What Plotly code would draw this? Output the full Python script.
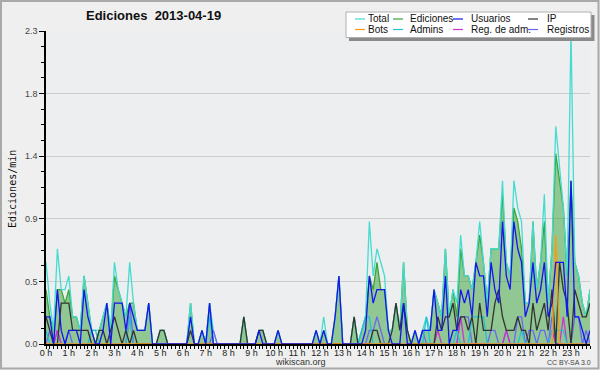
import plotly.graph_objects as go

# ---- categories: 10-minute slots over the day (hours) ----
slot_minutes = list(range(0, 1440, 10))
hours_x = [m / 60 for m in slot_minutes]
hour_ticks = list(range(24))
hour_labels = [f"{h} h" for h in hour_ticks]

y_tickvals = [0, 0.46, 0.92, 1.38, 1.84, 2.3]
y_ticktext = ["0.0", "0.5", "0.9", "1.4", "1.8", "2.3"]

# ---- series (edits per minute, one value per 10-minute slot; 6 per hour) ----
total = [
    0.6, 0.3, 0.1, 0.7, 0.4, 0.4,
    0.5, 0.2, 0.2, 0.1, 0.5, 0.3,
    0.1, 0.1, 0.1, 0.2, 0.3, 0.1,
    0.6, 0.4, 0.3, 0.2, 0.6, 0.3,
    0.1, 0.1, 0.1, 0.3, 0.0, 0.0,
    0.1, 0.1, 0.0, 0.0, 0.0, 0.0,
    0.0, 0.0, 0.3, 0.0, 0.0, 0.1,
    0.0, 0.3, 0.1, 0.0, 0.0, 0.0,
    0.0, 0.0, 0.0, 0.0, 0.2, 0.0,
    0.0, 0.0, 0.1, 0.1, 0.0, 0.0,
    0.0, 0.1, 0.0, 0.0, 0.0, 0.0,
    0.0, 0.0, 0.0, 0.0, 0.0, 0.1,
    0.0, 0.2, 0.0, 0.0, 0.2, 0.5,
    0.0, 0.0, 0.0, 0.2, 0.0, 0.1,
    0.2, 0.9, 0.5, 0.7, 0.6, 0.5,
    0.1, 0.1, 0.3, 0.1, 0.6, 0.1,
    0.0, 0.1, 0.0, 0.1, 0.2, 0.1,
    0.4, 0.3, 0.2, 0.7, 0.2, 0.4,
    0.3, 0.8, 0.5, 0.5, 0.4, 0.6,
    0.9, 0.6, 0.3, 0.7, 0.7, 0.7,
    1.2, 0.6, 0.5, 1.2, 1.0, 0.9,
    0.3, 0.3, 0.9, 0.4, 0.6, 1.1,
    0.3, 0.7, 1.6, 1.3, 1.0, 0.5,
    2.3, 0.6, 0.5, 0.3, 0.2, 0.4,
]
ediciones = [
    0.4, 0.2, 0.1, 0.4, 0.4, 0.3,
    0.4, 0.2, 0.2, 0.1, 0.5, 0.3,
    0.1, 0.0, 0.1, 0.2, 0.3, 0.1,
    0.5, 0.4, 0.3, 0.2, 0.3, 0.3,
    0.1, 0.1, 0.1, 0.3, 0.0, 0.0,
    0.1, 0.1, 0.0, 0.0, 0.0, 0.0,
    0.0, 0.0, 0.3, 0.0, 0.0, 0.1,
    0.0, 0.3, 0.0, 0.0, 0.0, 0.0,
    0.0, 0.0, 0.0, 0.0, 0.2, 0.0,
    0.0, 0.0, 0.1, 0.1, 0.0, 0.0,
    0.0, 0.1, 0.0, 0.0, 0.0, 0.0,
    0.0, 0.0, 0.0, 0.0, 0.0, 0.1,
    0.0, 0.1, 0.0, 0.0, 0.2, 0.5,
    0.0, 0.0, 0.0, 0.2, 0.0, 0.1,
    0.2, 0.5, 0.4, 0.6, 0.4, 0.4,
    0.1, 0.1, 0.3, 0.1, 0.6, 0.1,
    0.0, 0.1, 0.0, 0.1, 0.1, 0.1,
    0.4, 0.3, 0.2, 0.7, 0.2, 0.4,
    0.2, 0.7, 0.5, 0.5, 0.4, 0.6,
    0.8, 0.6, 0.3, 0.7, 0.7, 0.7,
    1.1, 0.6, 0.5, 1.0, 0.9, 0.7,
    0.3, 0.3, 0.9, 0.4, 0.6, 0.9,
    0.3, 0.7, 1.4, 1.2, 1.0, 0.5,
    1.2, 0.6, 0.5, 0.3, 0.2, 0.4,
]
usuarios = [
    0.2, 0.2, 0.0, 0.4, 0.1, 0.0,
    0.1, 0.1, 0.1, 0.0, 0.4, 0.2,
    0.1, 0.0, 0.0, 0.1, 0.3, 0.0,
    0.3, 0.3, 0.3, 0.1, 0.3, 0.2,
    0.1, 0.1, 0.1, 0.3, 0.0, 0.0,
    0.0, 0.0, 0.0, 0.0, 0.0, 0.0,
    0.0, 0.0, 0.2, 0.0, 0.0, 0.1,
    0.0, 0.3, 0.0, 0.0, 0.0, 0.0,
    0.0, 0.0, 0.0, 0.0, 0.0, 0.0,
    0.0, 0.0, 0.1, 0.0, 0.0, 0.0,
    0.0, 0.1, 0.0, 0.0, 0.0, 0.0,
    0.0, 0.0, 0.0, 0.0, 0.0, 0.1,
    0.0, 0.1, 0.0, 0.0, 0.2, 0.5,
    0.0, 0.0, 0.0, 0.0, 0.0, 0.0,
    0.1, 0.5, 0.3, 0.4, 0.4, 0.4,
    0.1, 0.0, 0.0, 0.0, 0.3, 0.0,
    0.0, 0.1, 0.0, 0.1, 0.1, 0.1,
    0.4, 0.1, 0.1, 0.5, 0.0, 0.1,
    0.1, 0.4, 0.3, 0.4, 0.2, 0.6,
    0.5, 0.5, 0.2, 0.6, 0.4, 0.3,
    0.9, 0.5, 0.4, 0.9, 0.7, 0.6,
    0.2, 0.3, 0.6, 0.3, 0.4, 0.6,
    0.2, 0.3, 0.6, 0.6, 0.6, 0.2,
    1.2, 0.2, 0.2, 0.1, 0.0, 0.1,
]
ip = [
    0.2, 0.1, 0.0, 0.0, 0.3, 0.3,
    0.3, 0.1, 0.1, 0.1, 0.1, 0.1,
    0.0, 0.0, 0.1, 0.1, 0.0, 0.1,
    0.2, 0.1, 0.0, 0.1, 0.0, 0.1,
    0.0, 0.0, 0.0, 0.0, 0.0, 0.0,
    0.1, 0.1, 0.0, 0.0, 0.0, 0.0,
    0.0, 0.0, 0.1, 0.0, 0.0, 0.0,
    0.0, 0.0, 0.0, 0.0, 0.0, 0.0,
    0.0, 0.0, 0.0, 0.0, 0.2, 0.0,
    0.0, 0.0, 0.1, 0.1, 0.0, 0.0,
    0.0, 0.0, 0.0, 0.0, 0.0, 0.0,
    0.0, 0.0, 0.0, 0.0, 0.0, 0.0,
    0.0, 0.0, 0.0, 0.0, 0.0, 0.0,
    0.0, 0.0, 0.0, 0.2, 0.0, 0.0,
    0.0, 0.0, 0.1, 0.1, 0.0, 0.0,
    0.0, 0.1, 0.3, 0.1, 0.3, 0.1,
    0.0, 0.0, 0.0, 0.0, 0.0, 0.0,
    0.0, 0.2, 0.1, 0.2, 0.2, 0.3,
    0.1, 0.2, 0.2, 0.1, 0.2, 0.0,
    0.3, 0.1, 0.1, 0.1, 0.3, 0.4,
    0.2, 0.1, 0.1, 0.1, 0.2, 0.1,
    0.1, 0.0, 0.3, 0.1, 0.2, 0.3,
    0.1, 0.4, 0.0, 0.6, 0.4, 0.3,
    0.0, 0.4, 0.3, 0.2, 0.2, 0.3,
]
bots = [0.0] * 134 + [0.8] + [0.0] * 9
admins = [
    0.1, 0.0, 0.0, 0.0, 0.0, 0.0,
    0.0, 0.0, 0.0, 0.0, 0.0, 0.0,
    0.1, 0.1, 0.0, 0.0, 0.0, 0.0,
    0.0, 0.0, 0.0, 0.0, 0.2, 0.0,
    0.0, 0.0, 0.0, 0.0, 0.0, 0.0,
    0.0, 0.0, 0.0, 0.0, 0.0, 0.0,
    0.0, 0.0, 0.0, 0.0, 0.0, 0.0,
    0.0, 0.2, 0.0, 0.0, 0.0, 0.0,
    0.0, 0.0, 0.0, 0.0, 0.0, 0.0,
    0.0, 0.0, 0.0, 0.0, 0.0, 0.0,
    0.0, 0.0, 0.0, 0.0, 0.0, 0.0,
    0.0, 0.0, 0.0, 0.0, 0.0, 0.0,
    0.0, 0.0, 0.0, 0.0, 0.0, 0.0,
    0.0, 0.0, 0.0, 0.0, 0.0, 0.1,
    0.2, 0.2, 0.0, 0.0, 0.0, 0.0,
    0.0, 0.0, 0.0, 0.0, 0.0, 0.0,
    0.0, 0.0, 0.0, 0.0, 0.2, 0.0,
    0.0, 0.0, 0.0, 0.0, 0.0, 0.0,
    0.1, 0.0, 0.0, 0.0, 0.2, 0.2,
    0.2, 0.2, 0.0, 0.0, 0.0, 0.0,
    0.0, 0.0, 0.0, 0.0, 0.0, 0.1,
    0.0, 0.0, 0.0, 0.0, 0.0, 0.0,
    0.0, 0.1, 0.1, 0.1, 0.1, 0.0,
    0.0, 0.0, 0.0, 0.0, 0.0, 0.0,
]
reg_adm = [0.0] * 144
for _i, _v in [(3, 0.1), (22, 0.2), (103, 0.1), (109, 0.2), (121, 0.1), (133, 0.1), (136, 0.2)]:
    reg_adm[_i] = _v
registros = [
    0.0, 0.1, 0.0, 0.1, 0.0, 0.0,
    0.1, 0.0, 0.0, 0.0, 0.0, 0.0,
    0.0, 0.0, 0.0, 0.0, 0.0, 0.0,
    0.0, 0.0, 0.0, 0.0, 0.3, 0.0,
    0.0, 0.0, 0.0, 0.0, 0.0, 0.0,
    0.0, 0.0, 0.0, 0.0, 0.0, 0.0,
    0.0, 0.0, 0.0, 0.0, 0.0, 0.0,
    0.0, 0.0, 0.1, 0.0, 0.0, 0.0,
    0.0, 0.0, 0.0, 0.0, 0.0, 0.0,
    0.0, 0.0, 0.0, 0.0, 0.0, 0.0,
    0.0, 0.0, 0.0, 0.0, 0.0, 0.0,
    0.0, 0.0, 0.0, 0.0, 0.0, 0.0,
    0.0, 0.0, 0.0, 0.0, 0.0, 0.0,
    0.0, 0.0, 0.0, 0.0, 0.0, 0.0,
    0.0, 0.1, 0.1, 0.2, 0.1, 0.0,
    0.0, 0.0, 0.0, 0.0, 0.0, 0.0,
    0.0, 0.0, 0.0, 0.1, 0.0, 0.0,
    0.0, 0.0, 0.0, 0.0, 0.0, 0.0,
    0.0, 0.2, 0.2, 0.2, 0.0, 0.0,
    0.0, 0.0, 0.0, 0.1, 0.1, 0.0,
    0.0, 0.1, 0.0, 0.0, 0.2, 0.2,
    0.0, 0.1, 0.1, 0.0, 0.1, 0.1,
    0.0, 0.2, 0.0, 0.0, 0.0, 0.0,
    0.0, 0.2, 0.2, 0.0, 0.1, 0.0,
]

series_names = ["Total", "Ediciones", "Usuarios", "IP", "Bots", "Admins", "Reg. de adm.", "Registros"]
series_colors = {
    "Total": "#45dccf",
    "Ediciones": "#3aa63a",
    "Usuarios": "#1515ee",
    "IP": "#333333",
    "Bots": "#ff9a10",
    "Admins": "#20c2d6",
    "Reg. de adm.": "#cc33cc",
    "Registros": "#6868f4",
}
series_values = {
    "Total": total, "Ediciones": ediciones, "Usuarios": usuarios, "IP": ip,
    "Bots": bots, "Admins": admins, "Reg. de adm.": reg_adm, "Registros": registros,
}

fig = go.Figure()
draw_order = ["Ediciones", "Total", "Registros", "Reg. de adm.", "Admins", "IP", "Bots", "Usuarios"]
for name in draw_order:
    kw = dict(x=hours_x, y=series_values[name], mode="lines", name=name,
              line=dict(color=series_colors[name], width=1.3), showlegend=False,
              hoverinfo="skip")
    if name == "Ediciones":
        kw["fill"] = "tozeroy"
        kw["fillcolor"] = "rgba(51,160,51,0.5)"
    fig.add_trace(go.Scatter(**kw))

# pixel helpers for the plot area (46..590 x, 31..344 y)
L, R, T, B = 46, 590, 31, 344
def px(x):
    return (x - L) / (R - L)
def py(y):
    return (B - y) / (B - T)

shapes = []
annotations = []

# outer frame
shapes.append(dict(type="rect", xref="paper", yref="paper", x0=px(1), x1=px(598.5), y0=py(1), y1=py(368.5),
                   line=dict(color="#a9a9a9", width=2), fillcolor="rgba(0,0,0,0)", layer="above"))

# legend box with shadow
shapes.append(dict(type="rect", xref="paper", yref="paper", x0=px(349), x1=px(594.5), y0=py(15), y1=py(41),
                   line=dict(width=0), fillcolor="#8a8a8a", layer="above"))
shapes.append(dict(type="rect", xref="paper", yref="paper", x0=px(346), x1=px(591), y0=py(12), y1=py(37.5),
                   line=dict(color="#b0b0b0", width=1), fillcolor="#ffffff", layer="above"))
col_sample_x = [355, 393, 453, 528]
col_text_x = [366, 408, 469, 545]
row_y = [19, 29.5]
for k, name in enumerate(series_names):
    r, c = divmod(k, 4)
    x0 = col_sample_x[c]
    shapes.append(dict(type="line", xref="paper", yref="paper", x0=px(x0), x1=px(x0 + 10),
                       y0=py(row_y[r]), y1=py(row_y[r]),
                       line=dict(color=series_colors[name], width=1.2), layer="above"))
    annotations.append(dict(text=name, xref="paper", yref="paper", x=px(col_text_x[c]), y=py(row_y[r]),
                            xanchor="left", yanchor="middle", showarrow=False,
                            font=dict(family="Liberation Sans", size=10, color="#111111")))

# title
annotations.append(dict(text="<b>Ediciones\u00a0 2013-04-19</b>", xref="paper", yref="paper",
                        x=px(153), y=py(16), xanchor="center", yanchor="middle", showarrow=False,
                        font=dict(family="Liberation Sans", size=13, color="#111111")))
# y axis title
annotations.append(dict(text="Ediciones/min", xref="paper", yref="paper", x=px(12), y=py(189),
                        xanchor="center", yanchor="middle", textangle=-90, showarrow=False,
                        font=dict(family="DejaVu Sans Mono", size=10, color="#111111")))
# footer texts
annotations.append(dict(text="wikiscan.org", xref="paper", yref="paper", x=px(300), y=py(362),
                        xanchor="center", yanchor="middle", showarrow=False,
                        font=dict(family="Liberation Sans", size=9, color="#333333")))
annotations.append(dict(text="CC BY-SA 3.0", xref="paper", yref="paper", x=px(569), y=py(362.5),
                        xanchor="center", yanchor="middle", showarrow=False,
                        font=dict(family="Liberation Sans", size=7, color="#444444")))

fig.update_layout(
    width=600, height=370,
    margin=dict(l=L, r=600 - R, t=T, b=370 - B),
    paper_bgcolor="#efefef",
    plot_bgcolor="#edeef0",
    showlegend=False,
    shapes=shapes,
    annotations=annotations,
    xaxis=dict(
        range=[hours_x[0], hours_x[-1]],
        tickmode="array", tickvals=hour_ticks, ticktext=hour_labels,
        ticks="outside", ticklen=3, tickwidth=1, tickcolor="#000000",
        showline=True, linecolor="#000000", linewidth=1.5,
        showgrid=False, zeroline=False,
        ticklabelstandoff=-4,
        tickfont=dict(family="Liberation Sans", size=9, color="#222222"),
        minor=dict(tickmode="linear", tick0=0, dtick=1 / 6, ticks="outside", ticklen=3,
                   tickwidth=1, tickcolor="#000000", showgrid=False),
    ),
    yaxis=dict(
        range=[0, 2.3],
        tickmode="array", tickvals=y_tickvals, ticktext=y_ticktext,
        ticks="outside", ticklen=5, tickwidth=1, tickcolor="#000000",
        showline=True, linecolor="#000000", linewidth=1.5,
        showgrid=True, gridcolor="#cccccc", gridwidth=1, zeroline=False,
        tickfont=dict(family="Liberation Sans", size=9, color="#444444"),
        minor=dict(tickmode="linear", tick0=0, dtick=0.115, ticks="outside", ticklen=3,
                   tickwidth=1, tickcolor="#000000", showgrid=False),
    ),
)

fig.write_html("out.html", config={"displayModeBar": False},
               post_script="document.body.style.margin='0';document.body.style.background='#efefef';")
